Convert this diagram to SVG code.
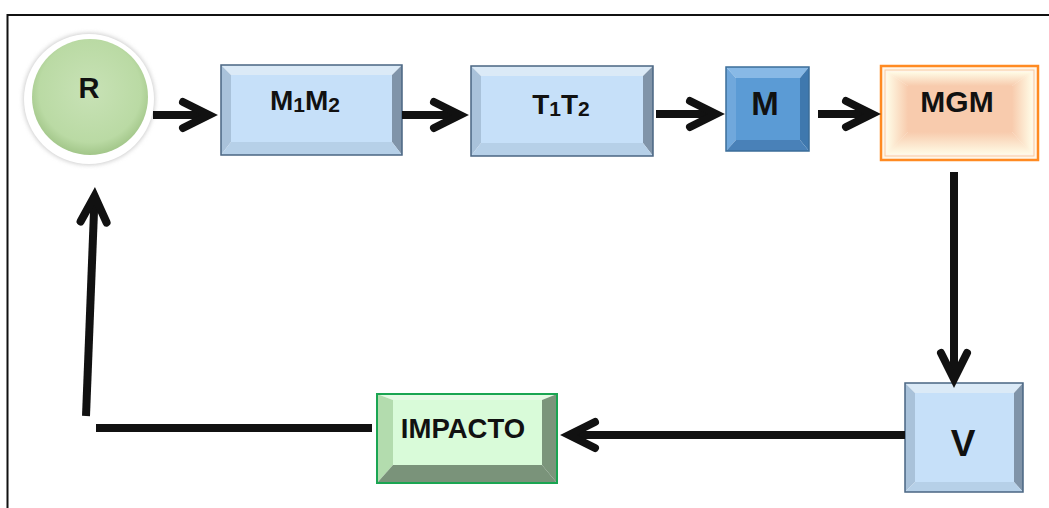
<svg xmlns="http://www.w3.org/2000/svg" width="1049" height="508" viewBox="0 0 1049 508">
<defs>
<style>
.lbl{font-family:"Liberation Sans",Arial,sans-serif;font-weight:bold;fill:#111;text-anchor:middle}
.conn{stroke:#111;stroke-width:8;fill:none;stroke-linecap:butt}
.b1 .bd{fill:none;stroke:#4a6683;stroke-width:1.5}
.b1 .ft{fill:#dbeaf7}.b1 .fl{fill:#a9c2da}.b1 .fr{fill:#8094a9}.b1 .fb{fill:#b6d0e8}.b1 .in{fill:#c6e0f9}
.b2 .bd{fill:none;stroke:#3b6d99;stroke-width:1.5}
.b2 .ft{fill:#88b9e6}.b2 .fl{fill:#70a8dc}.b2 .fr{fill:#3f78ae}.b2 .fb{fill:#4981b8}.b2 .in{fill:#5b9bd5}
.b3 .bd{fill:none;stroke:#1aa552;stroke-width:2}
.b3 .ft{fill:#e4fae4}.b3 .fl{fill:#b3dcae}.b3 .fr{fill:#7b957b}.b3 .fb{fill:#7a937a}.b3 .in{fill:#d9fbd9}
</style>
<marker id="chev" markerUnits="userSpaceOnUse" orient="auto" overflow="visible" refX="0" refY="0" markerWidth="40" markerHeight="40">
<path d="M-26,-13 L0,0 L-26,13" fill="none" stroke="#111" stroke-width="8" stroke-linecap="round" stroke-linejoin="miter"/>
</marker>
<radialGradient id="gR" cx="50%" cy="45%" r="55%">
<stop offset="0" stop-color="#c8e2b6"/><stop offset="0.8" stop-color="#badaa4"/><stop offset="1" stop-color="#a2c689"/>
</radialGradient>
<filter id="glow" x="-20%" y="-20%" width="140%" height="140%"><feGaussianBlur stdDeviation="2"/></filter>
<linearGradient id="oT" x1="0" y1="0" x2="0" y2="1"><stop offset="0" stop-color="#fffbe6"/><stop offset="1" stop-color="#f8cbad"/></linearGradient>
<linearGradient id="oB" x1="0" y1="1" x2="0" y2="0"><stop offset="0" stop-color="#fffbe6"/><stop offset="1" stop-color="#f8cbad"/></linearGradient>
<linearGradient id="oL" x1="0" y1="0" x2="1" y2="0"><stop offset="0" stop-color="#fffbe6"/><stop offset="1" stop-color="#f8cbad"/></linearGradient>
<linearGradient id="oR" x1="1" y1="0" x2="0" y2="0"><stop offset="0" stop-color="#fffbe6"/><stop offset="1" stop-color="#f8cbad"/></linearGradient>
</defs>
<rect x="0" y="0" width="1049" height="508" fill="#fff"/>
<rect x="7.5" y="15" width="1060" height="520" fill="none" stroke="#111" stroke-width="2"/>

<g id="node-R">
<circle cx="89" cy="99" r="66" fill="#cfcfcf" filter="url(#glow)"/>
<circle cx="89" cy="99" r="65" fill="#fff"/>
<circle cx="90" cy="97" r="58" fill="url(#gR)"/>
<text class="lbl" x="89" y="98" font-size="29">R</text>
</g>

<g id="node-M1M2" class="b1">
<polygon class="ft" points="221,65 402,65 392,75 231,75"/>
<polygon class="fl" points="221,65 231,75 231,142 221,155"/>
<polygon class="fr" points="402,65 402,155 392,142 392,75"/>
<polygon class="fb" points="221,155 231,142 392,142 402,155"/>
<rect class="in" x="231" y="75" width="161" height="67"/>
<rect class="bd" x="221" y="65" width="181" height="90"/>
<text class="lbl" x="305" y="110" font-size="28">M<tspan font-size="21" dy="2">1</tspan><tspan dy="-2">M</tspan><tspan font-size="21" dy="2">2</tspan></text>
</g>

<g id="node-T1T2" class="b1">
<polygon class="ft" points="471,66 653,66 643,76 481,76"/>
<polygon class="fl" points="471,66 481,76 481,143 471,156"/>
<polygon class="fr" points="653,66 653,156 643,143 643,76"/>
<polygon class="fb" points="471,156 481,143 643,143 653,156"/>
<rect class="in" x="481" y="76" width="162" height="67"/>
<rect class="bd" x="471" y="66" width="182" height="90"/>
<text class="lbl" x="561" y="114" font-size="28">T<tspan font-size="21" dy="2">1</tspan><tspan dy="-2">T</tspan><tspan font-size="21" dy="2">2</tspan></text>
</g>

<g id="node-M" class="b2">
<polygon class="ft" points="726,67 809,67 800,78 736,78"/>
<polygon class="fl" points="726,67 736,78 736,140 726,151"/>
<polygon class="fr" points="809,67 809,151 800,140 800,78"/>
<polygon class="fb" points="726,151 736,140 800,140 809,151"/>
<rect class="in" x="736" y="78" width="64" height="62"/>
<rect class="bd" x="726" y="67" width="83" height="84"/>
<text class="lbl" x="765" y="115" font-size="33">M</text>
</g>

<g id="node-MGM">
<rect x="881" y="66" width="157" height="94" fill="#fff6ea" stroke="#ff8a22" stroke-width="2.5"/>
<rect x="885" y="70" width="149" height="86" fill="none" stroke="#f9c9a0" stroke-width="1"/>
<polygon fill="url(#oT)" points="887,72 1032,72 1012,86 908,86"/>
<polygon fill="url(#oL)" points="887,72 908,86 908,132 887,154"/>
<polygon fill="url(#oR)" points="1032,72 1032,154 1012,132 1012,86"/>
<polygon fill="url(#oB)" points="887,154 908,132 1012,132 1032,154"/>
<rect x="908" y="86" width="104" height="46" fill="#f8cbad"/>
<text class="lbl" x="957" y="112" font-size="30">MGM</text>
</g>

<g id="node-V" class="b1">
<polygon class="ft" points="905,383 1023,383 1014,393 915,393"/>
<polygon class="fl" points="905,383 915,393 915,482 905,492"/>
<polygon class="fr" points="1023,383 1023,492 1014,482 1014,393"/>
<polygon class="fb" points="905,492 915,482 1014,482 1023,492"/>
<rect class="in" x="915" y="393" width="99" height="89"/>
<rect class="bd" x="905" y="383" width="118" height="109"/>
<text class="lbl" x="963" y="456" font-size="37">V</text>
</g>

<g id="node-IMPACTO" class="b3">
<polygon class="ft" points="377,394 557,394 542,400 393,400"/>
<polygon class="fl" points="377,394 393,400 393,465 377,483"/>
<polygon class="fr" points="557,394 557,483 542,465 542,400"/>
<polygon class="fb" points="377,483 393,465 542,465 557,483"/>
<rect class="in" x="393" y="400" width="149" height="65"/>
<rect class="bd" x="377" y="394" width="180" height="89"/>
<text class="lbl" x="463" y="438" font-size="27.5">IMPACTO</text>
</g>

<g id="connectors">
<path class="conn" d="M153,115 L209,115" marker-end="url(#chev)"/>
<path class="conn" d="M402,115 L460,115" marker-end="url(#chev)"/>
<path class="conn" d="M656,114 L716,114" marker-end="url(#chev)"/>
<path class="conn" d="M818,114 L872,114" marker-end="url(#chev)"/>
<path class="conn" d="M954,172 L954,379" marker-end="url(#chev)"/>
<path class="conn" d="M905,435 L569,435" marker-end="url(#chev)"/>
<path class="conn" d="M372,428 L96,428"/>
<path class="conn" d="M86,416 L94.6,196" marker-end="url(#chev)"/>
</g>
</svg>
